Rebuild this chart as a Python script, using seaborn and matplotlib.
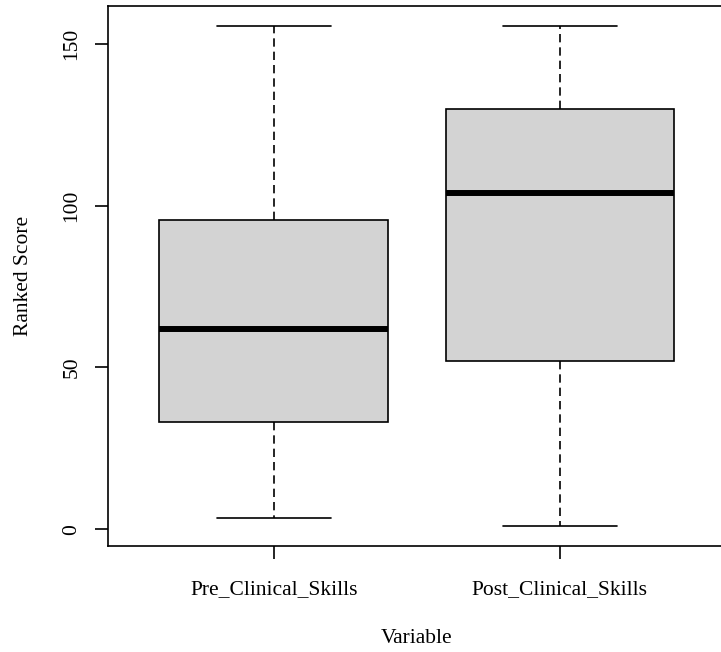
import numpy as np
import pandas as pd
import matplotlib
matplotlib.use("Agg")
import matplotlib.pyplot as plt
import seaborn as sns

# Five-number summaries (min, Q1, median, Q3, max) of the ranked scores
categories = ["Pre_Clinical_Skills", "Post_Clinical_Skills"]
pre_clinical = [3.5, 33, 62, 95.5, 155.5]
post_clinical = [1, 52, 104, 130, 155.5]
y_ticks = [0, 50, 100, 150]

df = pd.DataFrame({
    "Variable": np.repeat(categories, [len(pre_clinical), len(post_clinical)]),
    "Ranked Score": pre_clinical + post_clinical,
})

sns.set_style("white")
plt.rcParams["font.family"] = ["Liberation Serif", "DejaVu Serif"]
plt.rcParams["font.size"] = 15.5
plt.rcParams["text.color"] = "black"
plt.rcParams["axes.labelcolor"] = "black"
plt.rcParams["xtick.color"] = "black"
plt.rcParams["ytick.color"] = "black"

fig = plt.figure(figsize=(7.21, 6.52), dpi=100)
ax = fig.add_axes([108 / 721, 106 / 652, 617.8 / 721, 540 / 652])

lw = 1.2
dash = (0, (6.0 / lw, 3.6 / lw))
sns.boxplot(
    data=df, x="Variable", y="Ranked Score", ax=ax,
    order=categories, whis=(0, 100), width=0.8,
    color="#d3d3d3", saturation=1, linecolor="black", linewidth=lw,
    showfliers=False,
    medianprops=dict(linewidth=4.3, color="black", solid_capstyle="butt"),
    whiskerprops=dict(linestyle=dash, linewidth=lw),
    capprops=dict(linewidth=lw),
)

# R-style axis extents: categories at 0.5 margin plus 4% padding
ax.set_xlim(-0.58, 1.58)
lo = min(min(pre_clinical), min(post_clinical))
hi = max(max(pre_clinical), max(post_clinical))
pad = 0.04 * (hi - lo)
ax.set_ylim(lo - pad, hi + pad)

ax.set_yticks(y_ticks)
ax.set_yticklabels([str(t) for t in y_ticks], rotation=90, va="center")
ax.tick_params(axis="both", which="both", length=9.4, width=lw,
               color="black", labelcolor="black", direction="out",
               left=True, bottom=True)
ax.tick_params(axis="y", pad=9.6)
ax.tick_params(axis="x", pad=14.8)

for s in ax.spines.values():
    s.set_visible(True)
    s.set_color("black")
    s.set_linewidth(lw)

ax.set_xlabel("Variable", labelpad=22, color="black")
ax.set_ylabel("Ranked Score", labelpad=21, color="black")

fig.savefig("out.png", dpi=100)
